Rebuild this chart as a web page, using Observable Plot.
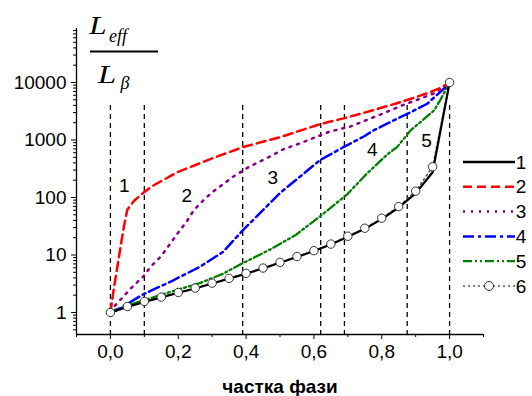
<!DOCTYPE html>
<html><head><meta charset="utf-8">
<script src="https://cdn.jsdelivr.net/npm/d3@7"></script>
<script src="https://cdn.jsdelivr.net/npm/@observablehq/plot@0.6"></script>
<style>body{margin:0;background:#fff} #chart{position:relative;width:532px;height:396px}</style>
</head><body><div id="chart"></div>
<script>
// ---- data ----
const seriesNames = ["1","2","3","4","5","6"];
const x16 = [0,0.05,0.1,0.15,0.2,0.25,0.3,0.35,0.4,0.45,0.5,0.55,0.6,0.65,0.7,0.75,0.8,0.85,0.9,0.95,1.0];
const y1 = [1,1.25,1.53,1.83,2.2,2.62,3.2,3.88,4.75,5.85,7.35,9.25,11.7,15.2,20.8,28.5,42,67,118,275,10000];
const y6 = [1,1.27,1.56,1.85,2.23,2.66,3.24,3.92,4.79,5.93,7.46,9.4,11.9,15.5,21.2,29.2,43.7,69.6,129,343,10000];
const x2 = [0,0.01,0.02,0.03,0.04,0.05,0.07,0.1,0.125,0.2,0.3,0.39,0.5,0.62,0.69,0.78,0.84,0.894,0.94,0.968,1.0];
const y2 = [1,2.6,6,14,32,62,88,125,160,280,480,750,1120,1900,2400,3370,4270,5400,6700,7800,10000];
const x3 = [0,0.012,0.044,0.064,0.098,0.118,0.15,0.173,0.2,0.224,0.246,0.263,0.298,0.362,0.41,0.46,0.51,0.559,0.648,0.707,0.806,0.86,0.914,0.964,1.0];
const y3 = [1,1.29,2.06,2.77,4.3,6.2,9.6,14.8,24.6,37.7,60,77,121,230,345,480,690,875,1410,1710,2930,4000,5250,6800,10000];
const x4 = [0,0.017,0.096,0.184,0.263,0.332,0.388,0.43,0.5,0.559,0.618,0.687,0.747,0.776,0.825,0.885,0.934,0.978,1.0];
const y4 = [1,1.08,2.06,3.6,6.2,11.3,26,46,120,230,447,750,1150,1470,2050,3040,4270,7300,10000];
const x5 = [0,0.007,0.096,0.175,0.263,0.332,0.388,0.47,0.545,0.618,0.697,0.757,0.816,0.845,0.885,0.914,0.954,0.973,1.0];
const y5 = [1,1.08,1.62,2.26,3.24,4.73,7.1,12.4,22,47,112,263,560,750,1470,2050,3260,5000,10000];
const regionBounds = [0,0.1,0.39,0.62,0.69,0.875,1.0];
const regionLabels = ["1","2","3","4","5"];
const regionLabelX = [0.041,0.225,0.479,0.772,0.932];
const regionLabelY = [162,108,223,684,980];
const yMajor = [1,10,100,1000,10000];
const xMajor = [0,0.2,0.4,0.6,0.8,1.0];
const xMinor = [-0.1,0.1,0.3,0.5,0.7,0.9,1.1];
const xTitle = "частка фази";

// ---- build ----
const zip = (xs, ys, s) => xs.map((x,i)=>({x, y: ys[i], s}));
const d1 = zip(x16,y1,"1"), d2 = zip(x2,y2,"2"), d3s = zip(x3,y3,"3"),
      d4 = zip(x4,y4,"4"), d5 = zip(x5,y5,"5"), d6 = zip(x16,y6,"6");
const yMin = Math.pow(10,-22/57.5), yMax = Math.pow(10,4+54/57.5);
const yMinor = [];
for (let e=-1; e<=4; e++) for (let m=1; m<=9; m++) { const v=m*Math.pow(10,e); if (m>1 && v>=yMin && v<=yMax) yMinor.push(v); }
const labels = regionLabels.map((t,i)=>({t, x: regionLabelX[i], y: regionLabelY[i]}));

const styles = {
  "1": {stroke:"#000", dash:null, w:2.2},
  "2": {stroke:"#ff0000", dash:"9,5", w:2.5},
  "3": {stroke:"#8b008b", dash:"2,6", w:2.5},
  "4": {stroke:"#0000ff", dash:"11,4,3,4", w:2.5},
  "5": {stroke:"#008000", dash:"9,3,2,3,2,3", w:2.3},
  "6": {stroke:"#555", dash:"2,3", w:1.5}
};
const lineMark = (d,k) => Plot.line(d, {x:"x", y:"y", stroke: styles[k].stroke, strokeWidth: styles[k].w, strokeDasharray: styles[k].dash});

const plot = Plot.plot({
  width: 532, height: 396,
  marginLeft: 76, marginRight: 49, marginTop: 28, marginBottom: 62,
  style: {fontFamily: "'Liberation Sans', Arial, sans-serif", fontSize: "19px", color: "#000", background: "#fff"},
  x: {domain: [-0.1, 1.1], label: null},
  y: {type: "log", domain: [yMin, yMax], label: null},
  marks: [
    Plot.ruleX(regionBounds, {y1: 3980, y2: yMin, stroke: "#000", strokeWidth: 1.3, strokeDasharray: "5,4"}),
    lineMark(d6,"6"),
    lineMark(d5,"5"),
    lineMark(d4,"4"),
    lineMark(d3s,"3"),
    lineMark(d2,"2"),
    lineMark(d1,"1"),
    Plot.dot(d6, {x:"x", y:"y", r: 4.2, fill: "#fff", stroke: "#333", strokeWidth: 1}),
    Plot.text(labels, {x:"x", y:"y", text:"t", fontSize: 19, fill:"#000"}),
    Plot.ruleX([-0.1], {stroke:"#000", strokeWidth: 1.3}),
    Plot.ruleY([yMin], {stroke:"#000", strokeWidth: 1.3}),
    Plot.axisY({ticks: yMajor, tickFormat: d => String(d), tickSize: 5, tickPadding: 5, fontSize: 19, label: null}),
    Plot.axisY({ticks: yMinor, tickFormat: () => "", tickSize: 3, label: null}),
    Plot.axisX({ticks: xMajor, tickFormat: d => d.toFixed(1).replace(".", ","), tickSize: 5, tickPadding: 5, fontSize: 19, label: null}),
    Plot.axisX({ticks: xMinor, tickFormat: () => "", tickSize: 3, label: null})
  ]
});
document.getElementById("chart").appendChild(plot);

const svg = d3.select(plot);
// axis title
svg.append("text").attr("x", 280).attr("y", 393).attr("text-anchor","middle")
  .attr("font-family","'Liberation Sans', Arial, sans-serif").attr("font-weight","bold").attr("font-size",19)
  .text(xTitle);
// fraction label
const frac = svg.append("g").attr("font-family","'Liberation Serif','Times New Roman',serif").attr("font-style","italic").attr("font-weight","normal").attr("fill","#000");
frac.append("text").attr("transform","translate(98,33.5) scale(1.25,1)").attr("font-size",25).text("L");
frac.append("text").attr("x",118).attr("y",42).attr("font-size",18).text("eff");
frac.append("line").attr("x1",90).attr("x2",158).attr("y1",51.5).attr("y2",51.5).attr("stroke","#000").attr("stroke-width",2);
frac.append("text").attr("transform","translate(107,83) scale(1.25,1)").attr("font-size",26).text("L");
frac.append("text").attr("x",125).attr("y",89).attr("font-size",18).text("β");
// legend
const leg = svg.append("g");
seriesNames.forEach((k,i) => {
  const y = 162 + i*24.8, st = styles[k];
  leg.append("line").attr("x1",463).attr("x2",515).attr("y1",y).attr("y2",y)
    .attr("stroke",st.stroke).attr("stroke-width",st.w+(k==="1"?0.3:0)).attr("stroke-dasharray",st.dash);
  if (k==="6") leg.append("circle").attr("cx",489).attr("cy",y).attr("r",4.5).attr("fill","#fff").attr("stroke","#333");
  leg.append("text").attr("x",521).attr("y",y).attr("dy","0.35em")
    .attr("font-family","'Liberation Sans', Arial, sans-serif").attr("font-size",19).text(k);
});
</script>
</body></html>
